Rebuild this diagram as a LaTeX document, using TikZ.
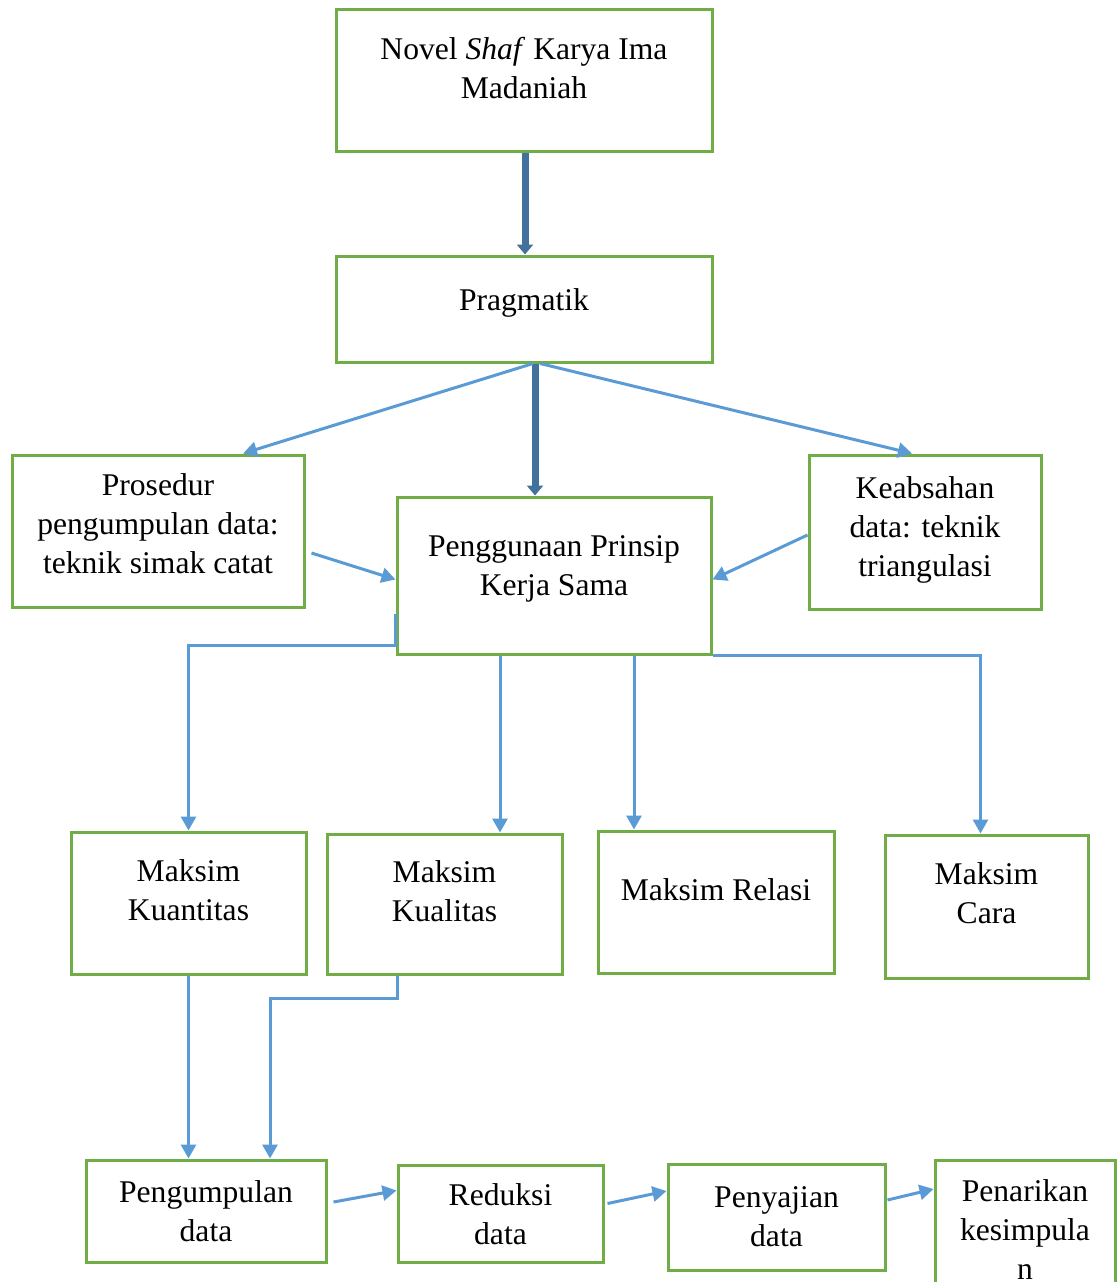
\documentclass[tikz,border=0pt]{standalone}
\usepackage{fontspec}
\setmainfont{Liberation Serif}
\usetikzlibrary{arrows.meta,positioning}
\definecolor{boxgreen}{RGB}{112,173,71}
\definecolor{linkblue}{RGB}{91,155,213}
\definecolor{trunkblue}{RGB}{65,113,156}
\tikzstyle{Box} = [draw=boxgreen, line width=3pt, rectangle, align=center, inner sep=0pt, font=\fontsize{31.6}{39}\selectfont]
\tikzstyle{Link} = [draw=linkblue, line width=3pt, -{Triangle[length=14pt,width=15pt]}]
\tikzstyle{Trunk} = [draw=trunkblue, line width=7pt, -{Triangle[length=10pt,width=16pt]}]
% text sits a little above the middle of its box
\newcommand{\Lift}[2]{\raisebox{#1}[\height][\depth]{\begin{tabular}{@{}c@{}}#2\end{tabular}}}

\begin{document}
\begin{tikzpicture}[x=1pt, y=-1pt]
    \useasboundingbox (0,0) rectangle (1117,1282);
    \node[Box, minimum width=376, minimum height=142] (novel)  at (524,80)     {\Lift{9pt}{Novel \textit{Shaf} Karya Ima\\Madaniah}};
    \node[Box, minimum width=376, minimum height=106] (prag)   at (524,309)    {\Lift{6pt}{Pragmatik}};
    \node[Box, minimum width=292, minimum height=152] (pros)   at (158,531)    {\Lift{4pt}{Prosedur\\pengumpulan data:\\teknik simak catat}};
    \node[Box, minimum width=314, minimum height=157] (peng)   at (554,575.5)  {\Lift{7pt}{Penggunaan Prinsip\\Kerja Sama}};
    \node[Box, minimum width=232, minimum height=154] (keab)   at (925,532)    {\Lift{2pt}{Keabsahan\\data: teknik\\triangulasi}};
    \node[Box, minimum width=235, minimum height=142] (kuan)   at (188.5,903)  {\Lift{10pt}{Maksim\\Kuantitas}};
    \node[Box, minimum width=235, minimum height=140] (kual)   at (444.5,904)  {\Lift{10pt}{Maksim\\Kualitas}};
    \node[Box, minimum width=236, minimum height=142] (rel)    at (716,902)    {\Lift{9pt}{Maksim Relasi}};
    \node[Box, minimum width=203, minimum height=143] (cara)   at (986.5,906.5) {\Lift{10pt}{Maksim\\Cara}};
    \node[Box, minimum width=240, minimum height=102] (pengum) at (206,1211)   {Pengumpulan\\data};
    \node[Box, minimum width=205, minimum height=97]  (red)    at (500.5,1213.5) {\Lift{-4pt}{Reduksi\\data}};
    \node[Box, minimum width=217, minimum height=106] (peny)   at (776.5,1217) {Penyajian\\data};
    \node[Box, minimum width=180, minimum height=140] (penar)  at (1025,1230)  {Penarikan\\kesimpula\\n};
    % main line
    \draw[Trunk] ([xshift=1pt]novel.south) -- ([xshift=1pt]prag.north);
    \draw[Trunk] ([xshift=11pt]prag.south) -- ([xshift=11pt]prag.south |- peng.north);
    % side boxes
    \draw[Link] ([xshift=9pt]prag.south)  -- ([xshift=85pt]pros.north);
    \draw[Link] ([xshift=16pt]prag.south) -- ([xshift=-13pt]keab.north);
    \draw[Link] ([shift={(6pt,-22pt)}]pros.east) -- ([yshift=-4pt]peng.west);
    \draw[Link] ([yshift=-3pt]keab.west) -- ([yshift=-4pt]peng.east);
    % maksim
    \draw[Link] ([yshift=-38pt]peng.west) -- ([yshift=-70pt]peng.west) -| (kuan.north);
    \draw[Link] ([xshift=-54pt]peng.south) -- ([xshift=-54pt]peng.south |- kual.north);
    \draw[Link] ([xshift=80pt]peng.south) -- ([xshift=80pt]peng.south |- rel.north);
    \draw[Link] (peng.south east) -| ([xshift=-6pt]cara.north);
    % analysis
    \draw[Link] (kuan.south) -- (kuan.south |- pengum.north);
    \draw[Link] ([xshift=-47pt]kual.south) -- ++(0,23) -| ([xshift=64pt]pengum.north);
    \draw[Link] ([shift={(6pt,9pt)}]pengum.east) -- ([yshift=23pt]red.west);
    \draw[Link] ([shift={(3pt,10pt)}]red.east) -- ([yshift=26pt]peny.west);
    \draw[Link] ([shift={(1pt,17pt)}]peny.east) -- ([yshift=41pt]penar.west);
\end{tikzpicture}
\end{document}
